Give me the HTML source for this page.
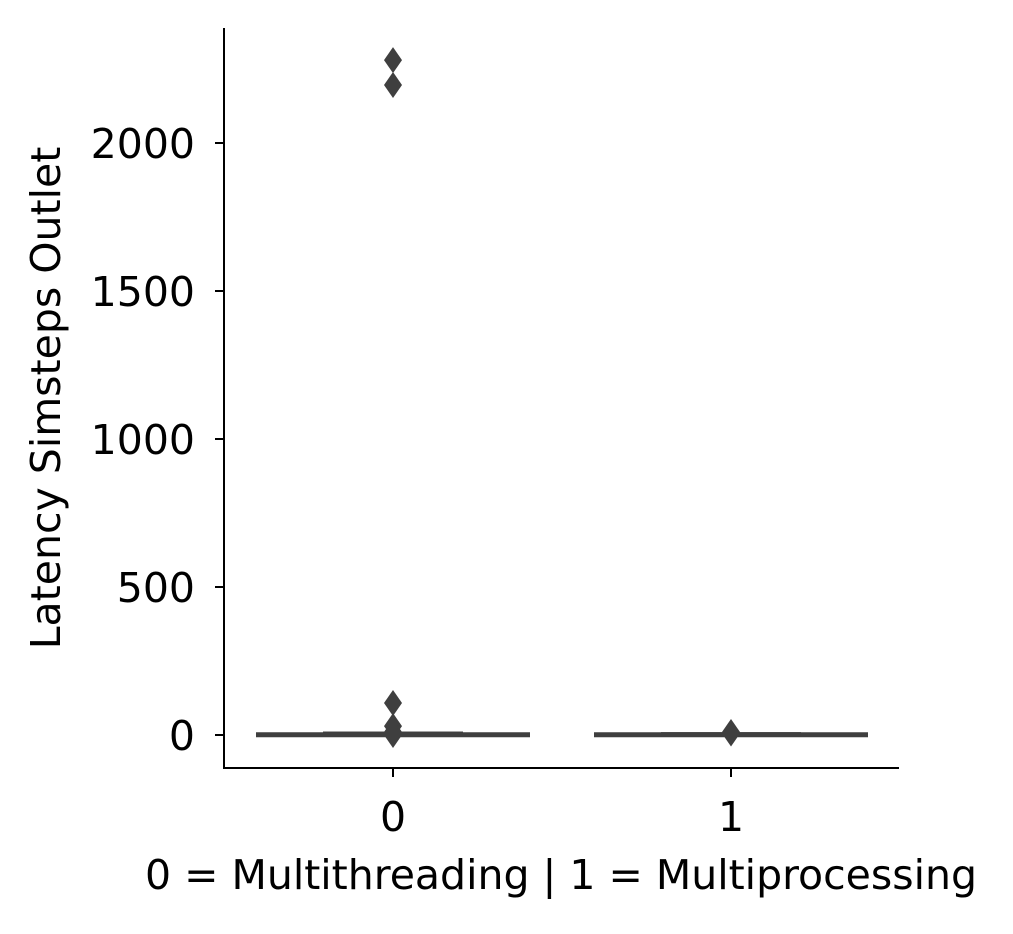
<!DOCTYPE html>
<html><head><meta charset="utf-8"><style>
body{margin:0;background:#fff;width:1013px;height:929px;overflow:hidden}
text{font-family:"DejaVu Sans","Liberation Sans",sans-serif;fill:#000}
</style></head><body>
<svg id="c" width="1013" height="929"></svg>
<script>
const categories=["0","1"];
const q1=[0,0];
const q3=[5,3];
const medians=[1,1];
const whiskLow=[0,0];
const whiskHigh=[12,7];
const outliers=[[2280,2196,108,30,10,0],[10,5]];
const yTicks=[0,500,1000,1500,2000];
const NS="http://www.w3.org/2000/svg";
const svg=document.getElementById('c');
const y=v=>735-v*0.296;
const x=i=>393+i*338;
const FS=41;
function mk(t,a,p){const e=document.createElementNS(NS,t);for(const k in a)e.setAttribute(k,a[k]);(p||svg).appendChild(e);return e;}
const ax=mk('g',{});
const l1=mk('line',{x1:224,y1:28,x2:224,y2:768.5,stroke:'#000','stroke-width':2},ax);

const l2=mk('line',{x1:223,y1:768,x2:899,y2:768,stroke:'#000','stroke-width':2},ax);

yTicks.forEach(v=>{
  mk('line',{x1:215,y1:y(v),x2:224,y2:y(v),stroke:'#000','stroke-width':2},ax);
  const t=mk('text',{x:195,y:y(v)+15,'text-anchor':'end','font-size':FS+'px'},ax);t.textContent=v;
  
});
categories.forEach((c,i)=>{
  mk('line',{x1:x(i),y1:768,x2:x(i),y2:777,stroke:'#000','stroke-width':2},ax);
  const t=mk('text',{x:x(i),y:831,'text-anchor':'middle','font-size':FS+'px'},ax);t.textContent=c;
  
  const g=mk('g',{});
  const col='#3f3f3f';
  mk('line',{x1:x(i)-137,x2:x(i)+137,y1:y(medians[i]),y2:y(medians[i]),stroke:col,'stroke-width':5},g);
  mk('rect',{x:x(i)-70,y:y(q3[i])-2,width:140,height:Math.max(y(q1[i])-y(q3[i]),0)+4,fill:col},g);
  mk('line',{x1:x(i),x2:x(i),y1:y(whiskLow[i]),y2:y(whiskHigh[i]),stroke:col,'stroke-width':4},g);
  outliers[i].forEach(v=>{
    const cy=y(v),cx=x(i);
    const d=mk('polygon',{points:`${cx},${cy-13} ${cx+9},${cy} ${cx},${cy+13} ${cx-9},${cy}`,fill:col},g);
    
  });
});
const yt=mk('text',{x:0,y:0,'text-anchor':'middle','font-size':FS+'px',transform:'translate(60,398) rotate(-90)'});
yt.textContent='Latency Simsteps Outlet';
const xt=mk('text',{x:561,y:889,'text-anchor':'middle','font-size':FS+'px'});
xt.textContent='0 = Multithreading | 1 = Multiprocessing';
</script>
</body></html>
